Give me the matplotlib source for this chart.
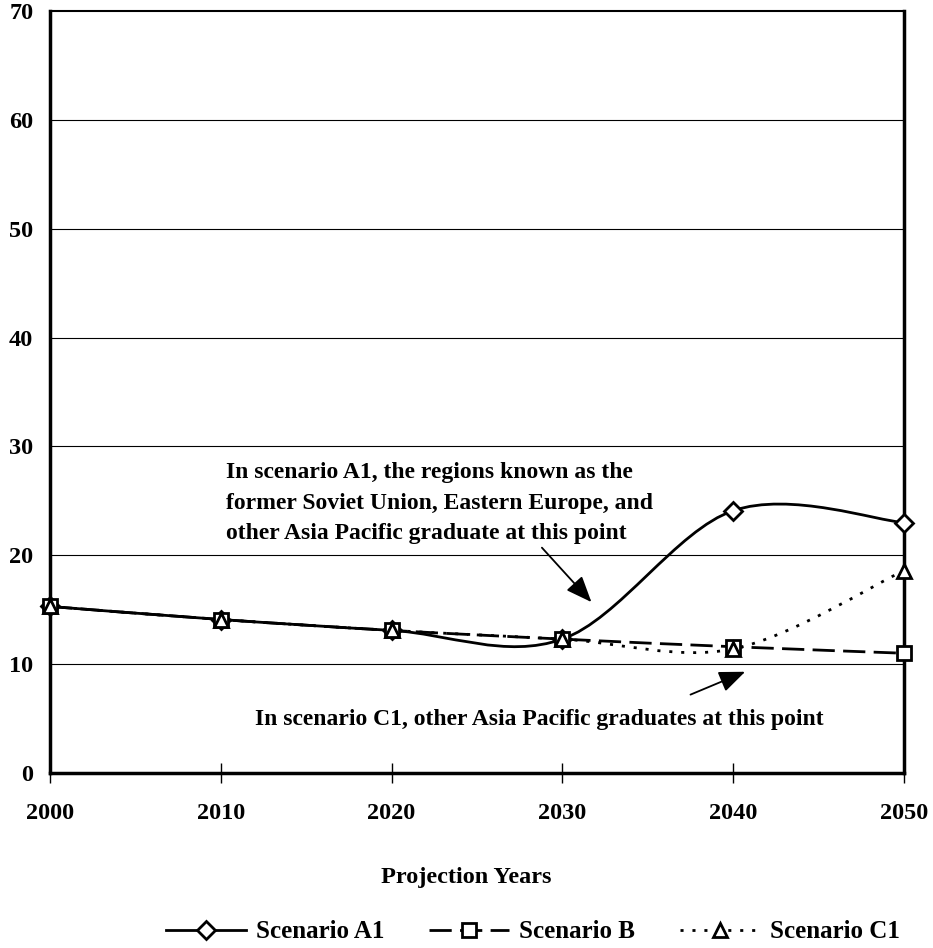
import numpy as np
import matplotlib.pyplot as plt
from matplotlib.path import Path
from matplotlib.patches import PathPatch
from matplotlib.lines import Line2D

plt.rcParams['font.family'] = ['Liberation Serif', 'DejaVu Serif']
plt.rcParams['font.weight'] = 'bold'

years = [2000, 2010, 2020, 2030, 2040, 2050]
scenario_a1 = [15.3, 14.1, 13.1, 12.3, 24.1, 23.0]
scenario_b = [15.3, 14.1, 13.1, 12.3, 11.6, 11.0]
scenario_c1 = [15.3, 14.1, 13.1, 12.3, 11.4, 18.6]


# excel style smoothed line as bezier path
def smooth_path(xs, ys):
    pts = np.column_stack([xs, ys]).astype(float)
    n = len(pts)
    verts = [pts[0]]
    codes = [Path.MOVETO]
    for i in range(n - 1):
        p0 = pts[i - 1] if i > 0 else pts[i]
        p1 = pts[i]
        p2 = pts[i + 1]
        p3 = pts[i + 2] if i + 2 < n else pts[i + 1]
        c1 = p1 + (p2 - p0) / 6.0
        c2 = p2 - (p3 - p1) / 6.0
        verts += [c1, c2, p2]
        codes += [Path.CURVE4] * 3
    return Path(verts, codes)


fig = plt.figure(figsize=(9.33, 9.48), dpi=100)
ax = fig.add_axes([50 / 933, 175 / 948, 854 / 933, 762 / 948])

ax.set_xlim(2000, 2050)
ax.set_ylim(0, 70)
for g in range(10, 70, 10):
    ax.axhline(g, color='black', lw=0.8, zorder=1)

series = [
    (scenario_a1, 'D', 'Scenario A1', None),
    (scenario_b, 's', 'Scenario B', (8, 3)),
    (scenario_c1, '^', 'Scenario C1', (1.1, 3.2)),
]
handles = []
for vals, mk, name, dashes in series:
    patch = PathPatch(smooth_path(years, vals), fill=False, lw=2.0,
                      ec='black', zorder=3, capstyle='butt')
    if dashes is not None:
        patch.set_linestyle((0, dashes))
    ax.add_patch(patch)
    ms = 9 if mk == 'D' else 10
    ax.plot(years, vals, linestyle='none', marker=mk, ms=ms, mfc='white',
            mec='black', mew=2, zorder=4, clip_on=False)
    h = Line2D([], [], color='black', lw=2.0, marker=mk, ms=ms, mfc='white',
               mec='black', mew=2)
    if dashes is not None:
        h.set_dashes(dashes)
    handles.append(h)

for s in ['left', 'bottom', 'right', 'top']:
    ax.spines[s].set_linewidth(2.5 if s != 'top' else 1.5)

ax.set_xticks(years)
ax.set_yticks(range(0, 80, 10))
ax.tick_params(axis='x', direction='inout', length=15, width=1, pad=14, labelsize=17.5)
ax.tick_params(axis='y', length=0, pad=12, labelsize=17.5)
for lab in ax.get_xticklabels() + ax.get_yticklabels():
    lab.set_fontweight('bold')

fig.text(0.5, 70 / 948, 'Projection Years', fontsize=17.5, fontweight='bold',
         ha='center', va='center')

ax.text(2010.3, 24.8,
        'In scenario A1, the regions known as the\nformer Soviet Union, Eastern Europe, and\nother Asia Pacific graduate at this point',
        fontsize=17, fontweight='bold', ha='left', va='center', linespacing=1.58)
ax.annotate('', xy=(2031.7, 15.7), xytext=(2028.8, 20.7),
            arrowprops=dict(arrowstyle='-|>,head_length=1.6,head_width=0.65',
                            color='black', lw=1.3, shrinkA=0, shrinkB=0))

ax.text(2012.0, 4.9, 'In scenario C1, other Asia Pacific graduates at this point',
        fontsize=17, fontweight='bold', ha='left', va='center')
ax.annotate('', xy=(2040.7, 9.3), xytext=(2037.5, 7.2),
            arrowprops=dict(arrowstyle='-|>,head_length=1.6,head_width=0.65',
                            color='black', lw=1.3, shrinkA=0, shrinkB=0))

fig.legend(handles=handles, labels=[s[2] for s in series], loc='center',
           bbox_to_anchor=(533 / 933, 16 / 948), ncol=3, frameon=False,
           handlelength=3.2, columnspacing=1.8, handletextpad=0.4,
           prop={'weight': 'bold', 'size': 18})

fig.savefig('out.png', dpi=100)
